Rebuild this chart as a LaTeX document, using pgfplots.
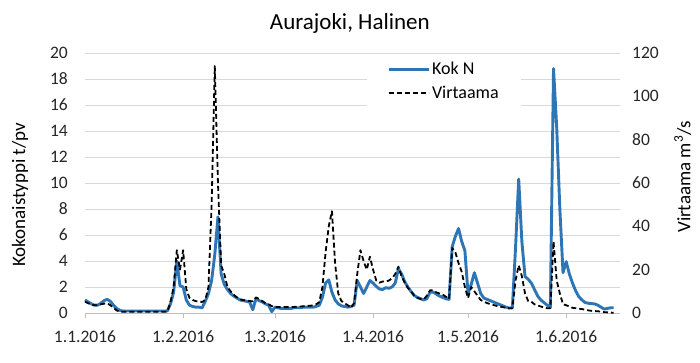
\documentclass[border=0pt]{standalone}
\usepackage{pgfplots}
\pgfplotsset{compat=1.18}
\usepackage{fontspec}
\setmainfont{Carlito}
\definecolor{kokblue}{HTML}{2E75B6}
\definecolor{gridgray}{HTML}{D9D9D9}
\definecolor{axgray}{HTML}{BFBFBF}

\begin{document}
\begin{tikzpicture}
\useasboundingbox (0,0) rectangle (700bp,363bp);
\begin{axis}[
  at={(85bp,50bp)}, anchor=south west,
  scale only axis, width=535bp, height=260bp,
  xmin=0, xmax=169, ymin=0, ymax=20,
  xtick={0,31,60,91,121,152},
  xticklabels={1.1.2016,1.2.2016,1.3.2016,1.4.2016,1.5.2016,1.6.2016},
  ytick={0,2,...,20},
  axis x line*=bottom, axis y line*=left,
  x axis line style={draw=axgray, line width=0.8bp, -},
  y axis line style={draw=none},
  tick align=outside,
  major x tick style={draw=axgray, line width=0.8bp},
  major y tick style={draw=none},
  major tick length=5bp,
  ymajorgrids, grid style={draw=gridgray, line width=0.8bp},
  /pgf/number format/assume math mode=true,
  tick label style={font=\fontsize{17.5bp}{20bp}\selectfont, text=black!85},
  xticklabel style={anchor=base, yshift=-24bp},
  yticklabel style={anchor=east, inner sep=0pt, xshift=-12bp},
  ylabel={Kokonaistyppi t/pv},
  ylabel style={font=\fontsize{19bp}{22bp}\selectfont, at={(axis description cs:-0.1215,0.454)}, rotate=0, anchor=center},
  title={Aurajoki, Halinen},
  title style={font=\fontsize{23bp}{26bp}\selectfont, at={(axis description cs:0.495,1.069)}, anchor=base},
  clip=false,
]
\addplot[kokblue, line width=2.9bp, line join=round] coordinates {
(0,1.0)(1,0.85)(2,0.7)(3,0.6)(4,0.6)(5,0.75)(6,0.95)(7,1.05)(8,0.9)(9,0.6)(10,0.35)(11,0.2)(12,0.15)
(14,0.15)(18,0.15)(22,0.15)(26,0.15)(27,0.7)(28,1.6)(29,4.0)(30,2.1)(31,2.0)(32,1.0)(33,0.6)(34,0.5)
(35,0.45)(36,0.45)(37,0.4)(38,0.9)(39,1.5)(40,2.5)(41,4.5)(42,7.4)(43,3.0)(44,2.2)(45,1.8)(46,1.5)
(47,1.3)(48,1.15)(49,1.0)(50,0.95)(51,0.9)(52,0.85)(53,0.25)(54,1.1)(55,0.95)(56,0.85)(57,0.7)(58,0.6)
(59,0.1)(60,0.45)(61,0.4)(62,0.35)(63,0.35)(64,0.35)(65,0.35)(66,0.4)(67,0.4)(68,0.4)(69,0.45)(70,0.45)
(71,0.45)(72,0.45)(73,0.5)(74,0.6)(75,1.2)(76,2.3)(77,2.55)(78,1.6)(79,1.0)(80,0.7)(81,0.55)(82,0.5)
(83,0.45)(84,0.5)(85,0.6)(86,2.5)(87,2.0)(88,1.5)(89,2.0)(90,2.5)(91,2.3)(92,2.05)(93,1.85)(94,1.8)
(95,1.95)(96,1.9)(97,2.0)(98,2.3)(99,3.4)(100,3.0)(101,2.4)(102,2.0)(103,1.65)(104,1.35)(105,1.2)
(106,1.1)(107,1.0)(108,1.1)(109,1.6)(110,1.6)(111,1.45)(112,1.3)(113,1.2)(114,1.1)(115,1.05)(116,5.1)
(117,5.9)(118,6.5)(119,5.5)(120,4.8)(121,1.5)(122,2.2)(123,3.1)(124,2.3)(125,1.5)(126,1.15)(127,1.05)
(128,0.95)(129,0.85)(130,0.75)(131,0.65)(132,0.55)(133,0.45)(134,0.38)(135,0.4)(136,5.0)(137,10.3)
(138,5.5)(139,2.8)(140,2.6)(141,2.3)(142,1.8)(143,1.3)(144,1.0)(145,0.8)(146,0.6)(147,0.45)(148,18.8)
(149,14.3)(150,8.0)(151,3.1)(152,3.95)(153,3.0)(154,2.3)(155,1.7)(156,1.25)(157,1.0)(158,0.8)(159,0.75)
(160,0.72)(161,0.7)(162,0.6)(163,0.45)(164,0.3)(165,0.35)(166,0.4)(167,0.4)
};
\end{axis}
\begin{axis}[
  at={(85bp,50bp)}, anchor=south west,
  scale only axis, width=535bp, height=260bp,
  xmin=0, xmax=169, ymin=0, ymax=120,
  ytick={0,20,...,120},
  axis x line=none, axis y line*=right,
  y axis line style={draw=none},
  major y tick style={draw=none},
  /pgf/number format/assume math mode=true,
  tick label style={font=\fontsize{17.5bp}{20bp}\selectfont, text=black!85},
  yticklabel style={anchor=west, inner sep=0pt, xshift=12bp},
  ylabel={Virtaama m\textsuperscript{3}/s},
  ylabel style={font=\fontsize{19bp}{22bp}\selectfont, at={(axis description cs:1.117,0.523)}, rotate=0, anchor=center, inner sep=0pt},
  legend style={draw=none, fill=white, at={(0.527,0.988)}, anchor=north west,
    inner xsep=20bp, inner ysep=4bp, row sep=6bp,
    font=\fontsize{18bp}{21bp}\selectfont},
  legend cell align=left,
  legend image code/.code={\draw[#1] (0bp,0bp) -- (40bp,0bp);},
  clip=false,
]
\addlegendimage{kokblue, line width=2.9bp}
\addlegendentry{Kok N}
\addplot[black, line width=1.8bp, dash pattern=on 5bp off 3bp, line join=round] coordinates {
(0,5.2)(1,4.5)(2,3.9)(3,3.6)(4,3.6)(5,4.0)(6,4.3)(7,4.5)(8,3.6)(9,2.4)(10,1.2)(11,0.6)
(14,0.6)(18,0.6)(22,0.6)(26,0.6)(27,5)(28,12)(29,29)(30,20)(31,29)(32,11)(33,7)(34,6)(35,5.5)(36,5.2)
(37,5.1)(38,6)(39,12)(40,50)(41,114)(42,60)(43,22)(44,18)(45,12)(46,10)(47,8.4)(48,7.2)(49,6.3)(50,6)
(51,5.7)(52,5.5)(53,5.4)(54,7.2)(55,6.5)(56,5.5)(57,4.5)(58,4)(59,3.2)(60,2.8)(61,2.7)(62,2.7)(64,2.7)
(66,2.8)(68,3.0)(70,3.2)(72,3.5)(73,4)(74,5)(75,12)(76,28)(77,40)(78,47)(79,23)(80,9)(81,5.5)(82,4.5)
(83,3.6)(84,2.4)(85,4.5)(86,18)(87,29)(88,24)(89,20)(90,26)(91,20)(92,15)(93,14)(94,14.5)(95,14.5)
(96,15)(97,16)(98,18)(99,21.4)(100,17)(101,14)(102,11.5)(103,10)(104,8)(105,7)(106,6.5)(107,6.3)
(108,8)(109,10.5)(110,10.5)(111,9.5)(112,9)(113,8.5)(114,7.5)(115,6.5)(116,30)(117,28)(118,23)(119,19)
(120,12)(121,6.9)(122,12)(123,10)(124,8)(125,6)(126,5.2)(127,4.6)(128,4.1)(129,3.7)(130,3.3)(131,3.0)
(132,2.7)(133,2.4)(134,2.2)(135,2.2)(136,15)(137,22)(138,17)(139,9)(140,5.5)(141,5.2)(142,4)(143,3.5)
(144,3)(145,2.5)(146,2.2)(147,2.2)(148,33)(149,15)(150,9)(151,4)(152,3.6)(153,3)(154,2.4)(155,2.2)
(156,2)(157,1.8)(158,1.5)(159,1.2)(160,1.0)(161,0.9)(162,0.8)(163,0.6)(164,0.4)(165,0.3)(166,0.2)(167,0.1)
};
\addlegendentry{Virtaama}
\end{axis}
\end{tikzpicture}
\end{document}
